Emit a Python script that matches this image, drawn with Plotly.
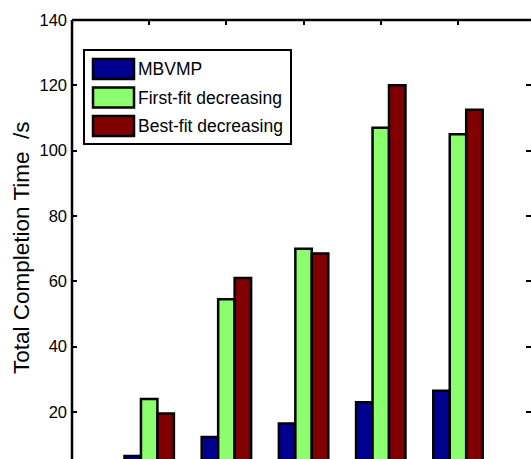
import plotly.graph_objects as go

groups = [1, 2, 3, 4, 5]
series_names = ["MBVMP", "First-fit decreasing", "Best-fit decreasing"]
mbvmp = [6.5, 12.3, 16.5, 23.0, 26.5]
ffd = [24.0, 54.5, 70.0, 107.0, 105.0]
bfd = [19.5, 61.0, 68.5, 120.0, 112.5]
series_values = [mbvmp, ffd, bfd]
colors = ["#000090", "#8CFF6E", "#800000"]
y_ticks = [20, 40, 60, 80, 100, 120, 140]

W, H = 531, 459
ML, MR, MT, MB = 72, 0, 20, 0
PW, PH = W - ML - MR, H - MT - MB

def px(x):
    return (x - ML) / PW

def py(y):
    return (H - MB - y) / PH

fig = go.Figure()
for name, vals, col in zip(series_names, series_values, colors):
    fig.add_trace(go.Bar(x=groups, y=vals, name=name, marker_color=col,
                         marker_line=dict(color="black", width=2.5),
                         showlegend=False))

TICKFONT = dict(family="Liberation Sans, Arial", size=16.5, color="black")
LEGFONT = dict(family="Liberation Sans, Arial", size=17.5, color="black")

shapes = [
    dict(type="line", xref="paper", yref="paper", x0=0, x1=0, y0=0, y1=1,
         line=dict(color="black", width=2.5), layer="above"),
    dict(type="line", xref="paper", yref="paper", x0=0, x1=1, y0=1, y1=1,
         line=dict(color="black", width=2.5), layer="above"),
    # legend box
    dict(type="rect", xref="paper", yref="paper", x0=px(84), x1=px(291), y0=py(144), y1=py(50),
         line=dict(color="black", width=2), fillcolor="white", layer="above"),
]
annotations = []
row_centers = [69, 97.5, 126]
for name, col, yc in zip(series_names, colors, row_centers):
    shapes.append(dict(type="rect", xref="paper", yref="paper",
                       x0=px(93), x1=px(134), y0=py(yc + 10), y1=py(yc - 10),
                       line=dict(color="black", width=2.5), fillcolor=col, layer="above"))
    annotations.append(dict(text=name, xref="paper", yref="paper", x=px(136), y=py(yc),
                            xanchor="left", yanchor="middle", showarrow=False, font=LEGFONT))

annotations.append(dict(text="Total Completion Time \u00a0/s", xref="paper", yref="paper",
                        x=px(22), y=py(248), xanchor="center", yanchor="middle",
                        textangle=-90, showarrow=False,
                        font=dict(family="Liberation Sans, Arial", size=22.5, color="black")))

fig.update_layout(
    width=W, height=H,
    margin=dict(l=ML, r=MR, t=MT, b=MB, autoexpand=False),
    paper_bgcolor="white", plot_bgcolor="white",
    barmode="group", bargap=0.36, bargroupgap=0.0,
    shapes=shapes, annotations=annotations,
    showlegend=False,
)
fig.update_xaxes(range=[0, 5.946], side="top", showline=False, showgrid=False, zeroline=False,
                 ticks="inside", ticklen=5, tickwidth=2, tickcolor="black",
                 tickvals=groups, showticklabels=False)
fig.update_yaxes(range=[5.6, 140], showline=False, showgrid=False, zeroline=False,
                 ticks="inside", ticklen=5, tickwidth=2, tickcolor="black", mirror="ticks",
                 tickvals=y_ticks, ticktext=[str(v) for v in y_ticks], tickfont=TICKFONT,
                 ticklabelstandoff=4)

fig.write_html("out.html")
